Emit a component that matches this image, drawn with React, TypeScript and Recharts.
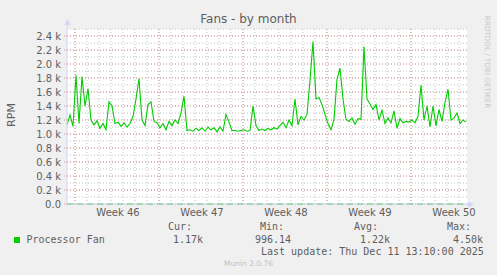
import React from 'react';
import {
  LineChart, Line, XAxis, YAxis, CartesianGrid, ReferenceLine
} from 'recharts';

// fan speed samples, one every 6 hours (0.25 day)
const fanRpm = [
  1130, 1270, 1110, 1840, 1150, 1820, 1400, 1650, 1200, 1130,
  1190, 1080, 1150, 1060, 1460, 1400, 1150, 1170, 1110, 1160,
  1100, 1150, 1250, 1500, 1790, 1200, 1120, 1420, 1460, 1180,
  1160, 1090, 1150, 1060, 1180, 1120, 1200, 1150, 1300, 1540,
  1050, 1060, 1040, 1080, 1050, 1090, 1040, 1100, 1060, 1090,
  1030, 1100, 1040, 1280, 1170, 1050, 1050, 1040, 1050, 1060,
  1040, 1050, 1400, 1120, 1050, 1070, 1050, 1080, 1060, 1090,
  1070, 1120, 1170, 1090, 1200, 1120, 1500, 1130, 1250, 1200,
  1280, 1770, 2320, 1500, 1520, 1420, 1280, 1150, 1060, 1210,
  1780, 1940, 1500, 1210, 1180, 1230, 1140, 1220, 1210, 2250,
  1500, 1430, 1350, 1420, 1200, 1340, 1150, 1230, 1160, 1330,
  1080, 1220, 1160, 1180, 1170, 1200, 1160, 1250, 1700, 1200,
  1400, 1100, 1400, 1120, 1350, 1180, 1450, 1640, 1200, 1230,
  1300, 1150, 1200, 1170,
];
const SAMPLE_STEP = 0.25; // days

const weekTicks = [4.25, 11.25, 18.25, 25.25, 32.25];
const weekLabels = ['Week 46', 'Week 47', 'Week 48', 'Week 49', 'Week 50'];
const yTicks = [0, 200, 400, 600, 800, 1000, 1200, 1400, 1600, 1800, 2000, 2200, 2400];

const legendHeaders = ['Cur:', 'Min:', 'Avg:', 'Max:'];
const legendValues = ['1.17k', '996.14', '1.22k', '4.50k'];

const data = fanRpm.map((rpm, i) => ({ t: i * SAMPLE_STEP, rpm }));

// grid positions (days from left edge / rpm)
const mondays = [0.6667, 7.6667, 14.6667, 21.6667, 28.6667];
const days = Array.from({ length: 33 }, (_, k) => 0.6667 + k);
const minorY = Array.from({ length: 25 }, (_, k) => (k + 1) * 100);

const FONT = '"DejaVu Sans", sans-serif';
const MONO = '"DejaVu Sans Mono", monospace';
const TXT = '#5e5e5e';

const Txt = ({ x, y, size, mono, color, children }: any) => (
  <div style={{
    position: 'absolute', left: x, top: y - size / 2, fontSize: size, lineHeight: `${size}px`,
    fontFamily: mono ? MONO : FONT, color: color || TXT, whiteSpace: 'pre'
  }}>{children}</div>
);

const fmtY = (v: number) => (v === 0 ? '0.0' : `${(v / 1000).toFixed(1)} k`);

export default function App() {
  const legendX = [168, 260, 354, 447];
  const valueX = [173, 255, 360, 453];
  return (
    <div style={{ position: 'absolute', left: 0, top: 0, width: 497, height: 275, background: '#f0f0f0', overflow: 'hidden' }}>
      <LineChart width={497} height={275} data={data}
        margin={{ top: 29, right: 30, left: 0, bottom: 51 }}>
        <CartesianGrid fill="#ffffff" stroke="#c4c4c4" strokeDasharray="1 2"
          horizontalValues={minorY} verticalValues={days} />
        <CartesianGrid stroke="#dd9a9a" strokeDasharray="1 2"
          horizontalValues={yTicks} verticalValues={mondays} />
        <XAxis dataKey="t" type="number" domain={[0, 100 / 3]} ticks={weekTicks}
          tickFormatter={(v: number) => weekLabels[weekTicks.indexOf(v)]}
          axisLine={{ stroke: '#cfd6f8' }} tickLine={false} tickSize={3} tickMargin={2}
          height={20} interval={0}
          tick={{ fontFamily: FONT, fontSize: 10, fill: TXT }} />
        <YAxis type="number" domain={[0, 2500]} ticks={yTicks} tickFormatter={fmtY}
          width={67} axisLine={{ stroke: '#cfd6f8' }} tickLine={{ stroke: '#dd9a9a', strokeDasharray: '1 1' }}
          tickSize={3} tickMargin={3} interval={0}
          tick={{ fontFamily: FONT, fontSize: 10, fill: TXT }} />
        <ReferenceLine y={0} stroke="#00cc00" strokeDasharray="6 4" />
        <Line type="linear" dataKey="rpm" stroke="#00cc00" strokeWidth={1.1}
          dot={false} isAnimationActive={false} />
      </LineChart>

      <svg width={497} height={275} style={{ position: 'absolute', left: 0, top: 0, pointerEvents: 'none' }}>
        <line x1={67.5} y1={29} x2={67.5} y2={22} stroke="#cfd6f8" />
        <polygon points="64.5,25 67.5,19 70.5,25" fill="#cfd6f8" />
        <line x1={467} y1={204.5} x2={470} y2={204.5} stroke="#cfd6f8" />
        <polygon points="468,201.5 474,204.5 468,207.5" fill="#cfd6f8" />
      </svg>

      <div style={{ position: 'absolute', left: 0, top: 12, width: 497, textAlign: 'center', fontFamily: FONT, fontSize: 12, lineHeight: '14px', color: TXT }}>
        Fans - by month
      </div>
      <div style={{ position: 'absolute', left: 11, top: 115, transform: 'translate(-50%, -50%) rotate(-90deg)', fontFamily: FONT, fontSize: 11, color: TXT, whiteSpace: 'pre' }}>
        RPM
      </div>
      <div style={{ position: 'absolute', left: 487, top: 62, transform: 'translate(-50%, -50%) rotate(90deg)', fontFamily: FONT, fontSize: 7.2, color: '#c8c8c8', whiteSpace: 'pre' }}>
        RRDTOOL / TOBI OETIKER
      </div>

      {legendHeaders.map((h, i) => (
        <Txt key={h} x={legendX[i]} y={227} size={10} mono>{h}</Txt>
      ))}
      <div style={{ position: 'absolute', left: 14, top: 237, width: 6, height: 6, background: '#00cc00' }} />
      <Txt x={26.5} y={240} size={10} mono>Processor Fan</Txt>
      {legendValues.map((v, i) => (
        <Txt key={i} x={valueX[i]} y={240} size={10} mono>{v}</Txt>
      ))}
      <Txt x={261} y={252} size={10} mono>Last update: Thu Dec 11 13:10:00 2025</Txt>
      <div style={{ position: 'absolute', left: 0, top: 259, width: 497, textAlign: 'center', fontFamily: FONT, fontSize: 7.5, lineHeight: '10px', color: '#c0c0c0' }}>
        Munin 2.0.76
      </div>
    </div>
  );
}
